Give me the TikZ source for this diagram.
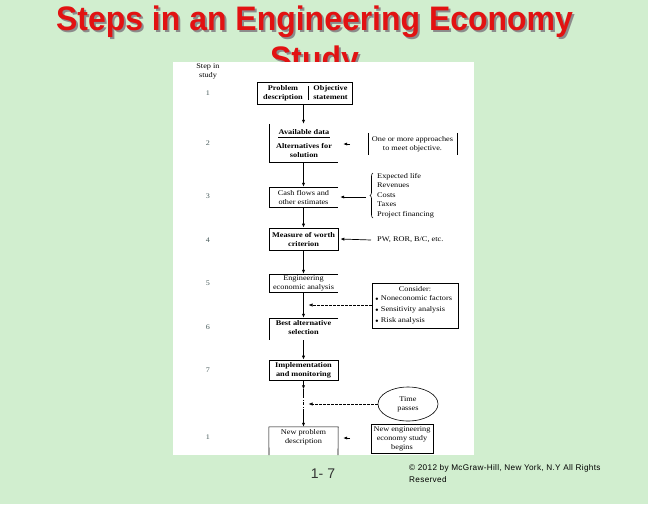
\documentclass[tikz,border=0pt]{standalone}
\usepackage{fontspec}
\setmainfont{Liberation Serif}
\newfontfamily\diagfont[FakeStretch=1.15]{Liberation Serif}
\newfontfamily\arialfont{Liberation Sans}
\newfontfamily\titlefam[FakeStretch=0.94]{Liberation Sans}
\newfontfamily\copyfont[LetterSpace=4]{Liberation Sans}
\usetikzlibrary{arrows.meta,decorations.pathreplacing,shapes.geometric,calc}
\definecolor{bggreen}{RGB}{209,238,207}
\definecolor{titlered}{RGB}{226,18,18}
\definecolor{stepgray}{RGB}{70,90,90}
\newcommand{\shadowtext}[1]{\rlap{\hspace{2pt}\raisebox{-2pt}{\textcolor{black!45}{#1}}}\textcolor{titlered}{#1}}
\begin{document}
\begin{tikzpicture}[x=1pt,y=-1pt,
  txt/.style={font=\diagfont\fontsize{7.2}{9}\selectfont, align=center, inner sep=0pt},
  btxt/.style={font=\diagfont\fontsize{7.2}{9}\selectfont\bfseries, align=center, inner sep=0pt},
  ltxt/.style={font=\diagfont\fontsize{7.2}{9.5}\selectfont, align=left, inner sep=0pt, anchor=west},
  stepno/.style={font=\diagfont\fontsize{7}{8}\selectfont, text=stepgray, inner sep=0pt},
  boxshape/.style={rectangle, minimum width=69pt, inner sep=0pt},
  flow/.style={-{Latex[length=4pt,width=3.2pt]}, line width=0.7pt},
  dflow/.style={-{Latex[length=4pt,width=3.2pt]}, line width=0.6pt, dash pattern=on 2.5pt off 1.5pt},
  edge/.style={line width=0.6pt},
  titlefont/.style={font=\titlefam\bfseries\fontsize{34}{40}\selectfont, inner sep=0pt, anchor=base},
  footfont/.style={font=\copyfont\fontsize{8.2}{12}\selectfont, inner sep=0pt, anchor=base west}
]
% background
\fill[bggreen] (0,0) rectangle (648,504);
\useasboundingbox (0,0) rectangle (648,504);

% title with shadow
\node[titlefont] (title1) at (314.5,30.5) {\shadowtext{Steps in an Engineering Economy}};
\node[titlefont] (title2) at (314.5,70.5) {\shadowtext{Study}};

% white panel
\fill[white] (173,62) rectangle (474,455);

% step column
\node[txt] (stephead) at (208,71.5) {Step in\\study};
\node[stepno] (s1) at (208,93) {1};
\node[stepno] (s2) at (208,143) {2};
\node[stepno] (s3) at (208,196) {3};
\node[stepno] (s4) at (208,240) {4};
\node[stepno] (s5) at (208,283) {5};
\node[stepno] (s6) at (208,327) {6};
\node[stepno] (s7) at (208,370) {7};
\node[stepno] (s8) at (208,437) {1};

% box 1
\node[rectangle, draw, edge, minimum width=95pt, minimum height=22pt, inner sep=0pt] (b1) at (304.5,93) {};
\node[btxt] (b1l) at (283,93) {Problem\\description};
\node[btxt] (b1r) at (330.5,93) {Objective\\statement};
\draw[edge] (308,86) -- (308,100);

% box 2
\node[boxshape, minimum height=38pt] (b2) at (303.5,143) {};
\node[btxt] (b2a) at (304,132) {Available data};
\draw[edge] (278,137.5) -- (330,137.5);
\node[btxt] (b2b) at (304,151) {Alternatives for\\solution};
\draw[edge] (b2.north west) -- (b2.south west) -- (b2.south east);

% box 3
\node[boxshape, minimum height=20pt] (b3) at (303.5,197) {};
\node[txt] at (b3) {Cash flows and\\other estimates};
\draw[edge] (b3.north east) -- (b3.north west) -- (b3.south west) -- (b3.south east);

% box 4
\node[boxshape, draw, edge, minimum height=22pt] (b4) at (303.5,239) {};
\node[btxt] at (b4) {Measure of worth\\criterion};

% box 5
\node[boxshape, minimum height=18pt] (b5) at (303.5,283) {};
\node[txt] at (b5) {Engineering\\economic analysis};
\draw[edge] (b5.north east) -- (b5.north west) -- (b5.south west) -- (b5.south east);

% box 6
\node[boxshape, minimum height=22pt] (b6) at (303.5,329) {};
\node[btxt] at (303.5,327.5) {Best alternative\\selection};
\draw[edge] (b6.north east) -- (b6.north west) -- (b6.south west);

% box 7
\node[boxshape, draw, edge, minimum height=20pt] (b7) at (303.5,370) {};
\node[btxt] at (b7) {Implementation\\and monitoring};

% box 8
\node[boxshape, minimum height=22pt] (b8) at (303.5,438) {};
\node[txt] at (303.5,437) {New problem\\description};
\draw[edge] (269,455) -- (b8.north west) -- (b8.north east) -- (338,455);

% main flow
\draw[flow] (b1.south -| b2) -- (b2.north);
\draw[flow] (b2.south) -- (b3.north);
\draw[flow] (b3.south) -- (b4.north);
\draw[flow] (b4.south) -- (b5.north);
\draw[flow] (b5.south) -- (b6.north);
\draw[flow] (b6.south) -- (b7.north);
\coordinate (m1) at ($(b7.south)+(0,9)$);
\coordinate (m2) at ($(b7.south)+(0,15)$);
\coordinate (m3) at ($(b7.south)+(0,31)$);
\draw[flow] (b7.south) -- (m1);
\draw[edge] (m1) -- (m2);
\draw[edge, dash pattern=on 3pt off 1.5pt on 1pt off 1.5pt] (m2) -- (m3);
\draw[flow] (m3) -- (b8.north);

% approaches bracket
\node[txt, minimum width=89pt, minimum height=22pt] (appr) at (412.5,144) {One or more approaches\\to meet objective.};
\draw[edge] (appr.north west) -- (appr.south west);
\draw[edge] (appr.north east) -- (appr.south east);
\draw[flow] ($(b2.east)+(12,1)$) -- ($(b2.east)+(5,1)$);

% estimates list with brace
\node[ltxt] (est) at (377,195.5) {Expected life\\Revenues\\Costs\\Taxes\\Project financing};
\draw[edge, decorate, decoration={brace, amplitude=3pt}] (373,218) -- (373,173);
\coordinate (bracetip) at (366,197);
\draw[flow] (bracetip) -- ($(b3.east)+(2,0)$);

% measure of worth
\node[ltxt] (pw) at (377,240) {PW, ROR, B/C, etc.};
\draw[flow] ($(pw.west)+(-6,0)$) -- ($(b4.east)+(2,0)$);

% consider box
\node[rectangle, draw, edge, minimum width=86pt, minimum height=45pt, inner sep=0pt] (cons) at (415,305.5) {};
\node[txt] (consh) at (415,289) {Consider:};
\node[ltxt] (consl) at (375,310) {$\scriptstyle\bullet$ Noneconomic factors\\[1.5pt]$\scriptstyle\bullet$ Sensitivity analysis\\[1.5pt]$\scriptstyle\bullet$ Risk analysis};
\coordinate (c1) at (308.5,305);
\draw[dflow] (cons.west |- c1) -- (c1);

% time passes
\node[ellipse, draw, edge, minimum width=60pt, minimum height=34pt, inner sep=0pt] (tp) at (408,404) {};
\node[txt] at (tp) {Time\\passes};
\coordinate (c2) at (308.5,404);
\draw[dflow] (tp.west) -- (c2);

% new engineering study
\node[rectangle, draw, edge, minimum width=62pt, minimum height=29pt, inner sep=0pt, txt] (newst) at (402,438.5) {New engineering\\economy study\\begins};
\draw[flow] ($(b8.east)+(12,0)$) -- ($(b8.east)+(5,0)$);

% footer
\node[font=\arialfont\fontsize{14}{16}\selectfont, text=black!80, inner sep=0pt, anchor=base] (pg) at (323,478) {1- 7};
\node[footfont] (copy1) at (409,470) {© 2012 by McGraw-Hill, New York, N.Y All Rights};
\node[footfont] (copy2) at (409,482) {Reserved};
\end{tikzpicture}
\end{document}
